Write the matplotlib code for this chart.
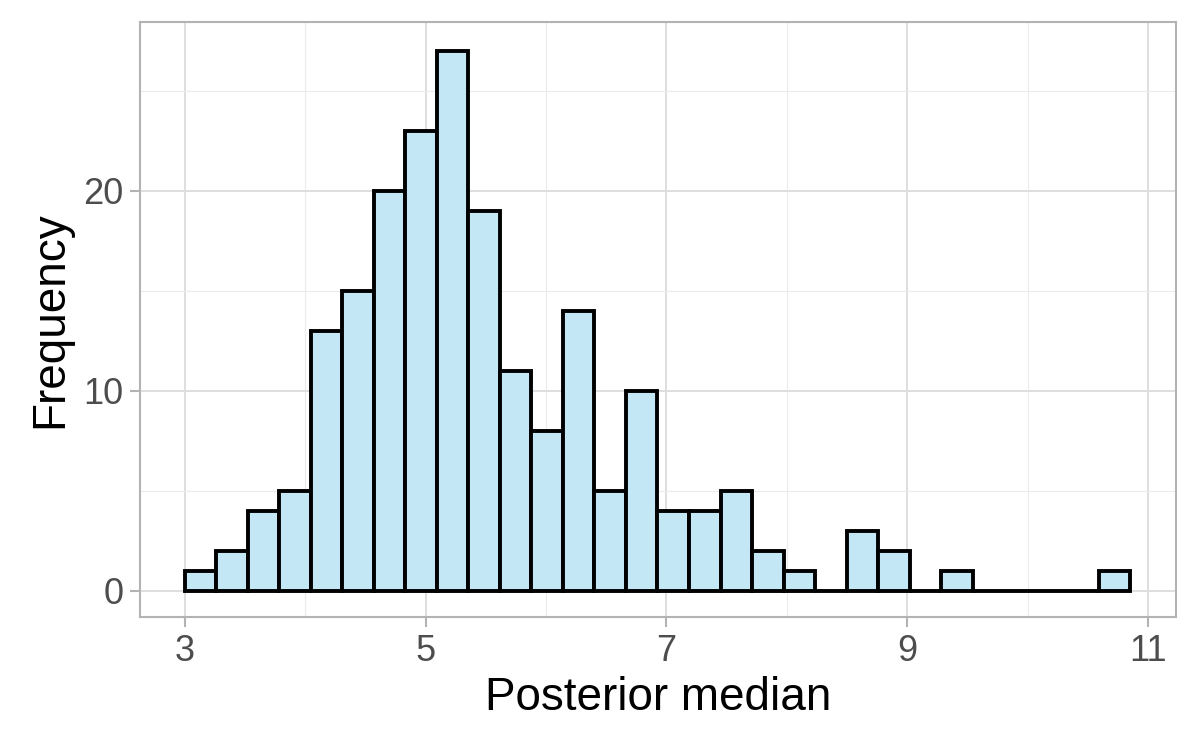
import numpy as np
import matplotlib.pyplot as plt

plt.rcParams['font.family'] = ['Liberation Sans', 'DejaVu Sans']

# histogram bins (30 bins from 3 to ~10.85) and counts
bin_start = 3.0
bin_width = 0.2617
counts = [1, 2, 4, 5, 13, 15, 20, 23, 27, 19, 11, 8, 14, 5, 10,
          4, 4, 5, 2, 1, 0, 3, 2, 0, 1, 0, 0, 0, 0, 1]

x_ticks = [3, 5, 7, 9, 11]
y_ticks = [0, 10, 20]

edges = bin_start + bin_width * np.arange(len(counts))

fig = plt.figure(figsize=(12, 7.5), dpi=100)
ax = fig.add_axes([140 / 1200, 1 - 617 / 750, (1176 - 140) / 1200, (617 - 22) / 750])

ax.bar(edges, counts, width=bin_width, align='edge',
       color='#c3e7f5', edgecolor='black', linewidth=2.8, zorder=3)

ax.set_xlim(2.63, 11.23)
ax.set_ylim(-1.3, 28.45)
ax.set_xticks(x_ticks)
ax.set_yticks(y_ticks)
ax.set_xticks([4, 6, 8, 10], minor=True)
ax.set_yticks([5, 15, 25], minor=True)

ax.grid(which='major', color='#dedede', linewidth=1.4, zorder=0)
ax.grid(which='minor', color='#ebebeb', linewidth=0.8, zorder=0)
for s in ax.spines.values():
    s.set_color('#b3b3b3')
    s.set_linewidth(1.5)

ax.tick_params(which='major', length=7, width=1.5, color='#b3b3b3',
               labelcolor='#4d4d4d', labelsize=26, pad=5)
ax.tick_params(which='minor', length=0)

ax.set_xlabel('Posterior median', fontsize=33, labelpad=5)
ax.set_ylabel('Frequency', fontsize=33, labelpad=8)

fig.savefig('out.png', dpi=100)
